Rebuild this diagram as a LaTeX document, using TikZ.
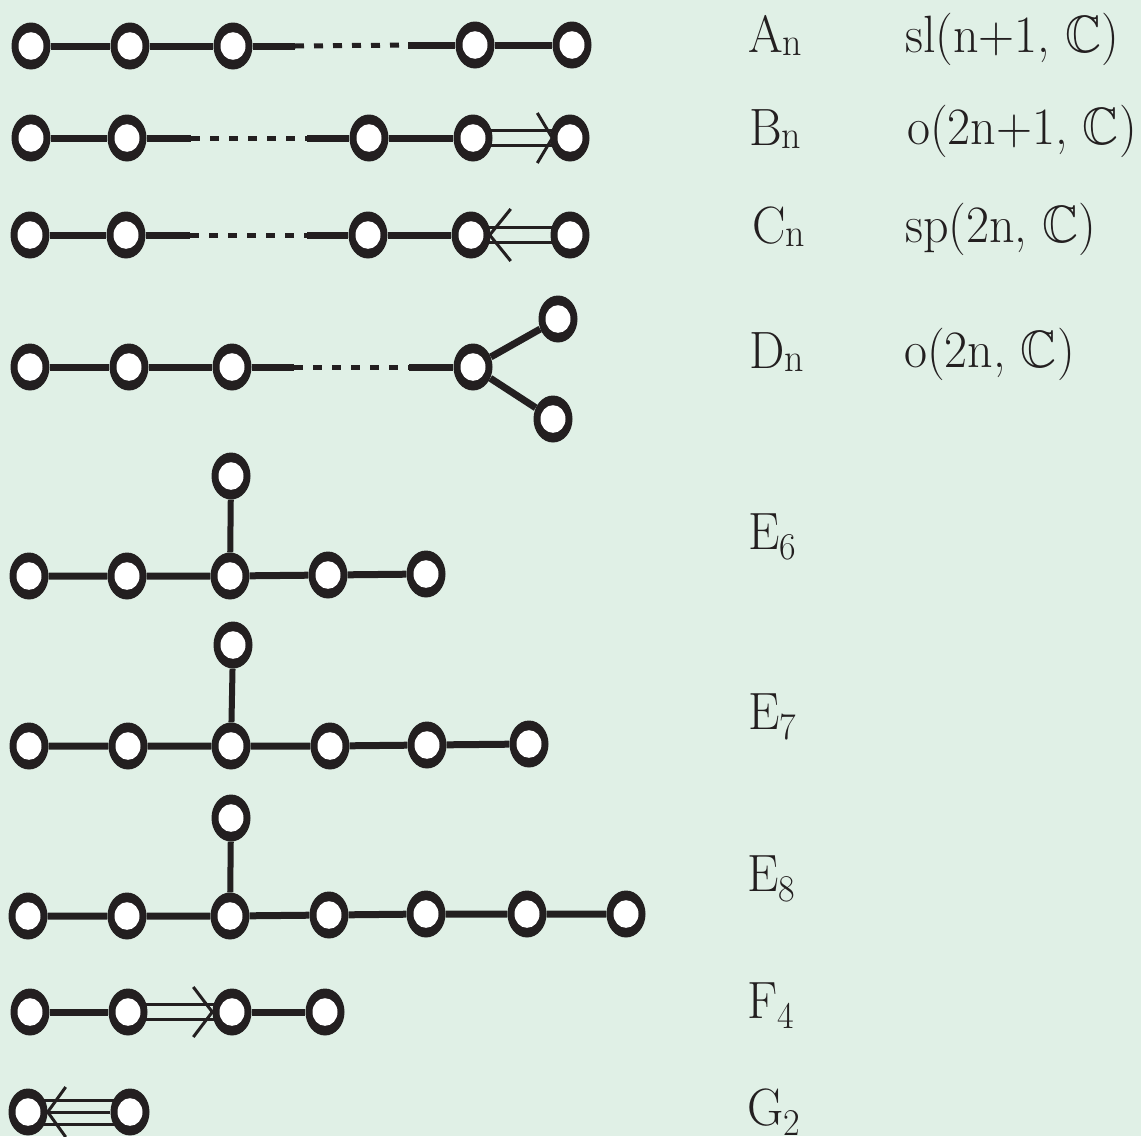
\documentclass[tikz,border=0pt]{standalone}
\usepackage{amssymb}
\usetikzlibrary{calc,shapes.geometric}
\definecolor{bg}{RGB}{224,240,230}
\definecolor{ink}{RGB}{35,31,32}
\pgfdeclarelayer{bottom}
\pgfdeclarelayer{background}
\pgfsetlayers{bottom,background,main}
\newcommand{\lsub}[2]{#1\raisebox{-3pt}{\fontsize{38}{40}\selectfont #2}}
\newcommand{\dsub}[2]{#1\raisebox{-10pt}{\fontsize{36}{40}\selectfont #2}}
\begin{document}
\begin{tikzpicture}[x=1pt,y=-1pt,
  dn/.style={fill=ink, ellipse, minimum width=39pt, minimum height=47pt, inner sep=0pt,
    path picture={\fill[white] (path picture bounding box.center) ellipse (12.5pt and 13.8pt);}},
  bond/.style={draw=ink, line width=7pt},
  dots/.style={draw=ink, line width=5pt, dash pattern=on 9pt off 10pt},
  fine/.style={draw=ink, line width=3pt},
  lab/.style={anchor=base west, inner sep=0pt, text=ink, font=\fontsize{50}{56}\selectfont}]
\begin{pgfonlayer}{bottom}
\fill[bg] (0,0) rectangle (1141,1136);
\end{pgfonlayer}
\useasboundingbox (0,0) rectangle (1141,1136);

% ---- A_n
\node[dn] (a1) at (31,46) {};
\node[dn] (a2) at (130,46) {};
\node[dn] (a3) at (233,46) {};
\node[dn] (a4) at (475,45) {};
\node[dn] (a5) at (572,45) {};
\coordinate (ap1) at (295,46);
\coordinate (ap2) at (408,45);
% ---- B_n
\node[dn] (b1) at (31,138) {};
\node[dn] (b2) at (127,138) {};
\node[dn] (b3) at (369,138) {};
\node[dn] (b4) at (473,138) {};
\node[dn] (b5) at (570,138) {};
\coordinate (bp1) at (191,138);
\coordinate (bp2) at (307,138);
% ---- C_n
\node[dn] (c1) at (30,235) {};
\node[dn] (c2) at (126,235) {};
\node[dn] (c3) at (368,235) {};
\node[dn] (c4) at (471,235) {};
\node[dn] (c5) at (570,235) {};
\coordinate (cp1) at (190,235);
\coordinate (cp2) at (307,235);
% ---- D_n
\node[dn] (d1) at (30,367) {};
\node[dn] (d2) at (129,367) {};
\node[dn] (d3) at (232,367) {};
\node[dn] (d4) at (473,367) {};
\node[dn] (d5) at (558,319) {};
\node[dn] (d6) at (553,419) {};
\coordinate (dp1) at (294,367);
\coordinate (dp2) at (409,367);
% ---- E6
\node[dn] (e61) at (29,576) {};
\node[dn] (e62) at (127,576) {};
\node[dn] (e63) at (230,576) {};
\node[dn] (e64) at (328,575) {};
\node[dn] (e65) at (426,574) {};
\node[dn] (e66) at (231,476) {};
% ---- E7
\node[dn] (e71) at (29,746) {};
\node[dn] (e72) at (128,746) {};
\node[dn] (e73) at (231,746) {};
\node[dn] (e74) at (330,746) {};
\node[dn] (e75) at (427,745) {};
\node[dn] (e76) at (529,744) {};
\node[dn] (e77) at (233,645) {};
% ---- E8
\node[dn] (e81) at (28,916) {};
\node[dn] (e82) at (127,916) {};
\node[dn] (e83) at (230,916) {};
\node[dn] (e84) at (329,915) {};
\node[dn] (e85) at (426,914) {};
\node[dn] (e86) at (527,914) {};
\node[dn] (e87) at (626,914) {};
\node[dn] (e88) at (231,818) {};
% ---- F4
\node[dn] (f1) at (30,1012) {};
\node[dn] (f2) at (128,1012) {};
\node[dn] (f3) at (232,1012) {};
\node[dn] (f4) at (325,1012) {};
% ---- G2
\node[dn] (g1) at (28,1112) {};
\node[dn] (g2) at (130,1112) {};

\begin{pgfonlayer}{background}
  \draw[bond] (a1) -- (a2) -- (a3) -- (ap1);
  \draw[dots] (ap1) -- (ap2);
  \draw[bond] (ap2) -- (a4) -- (a5);

  \draw[bond] (b1) -- (b2) -- (bp1);
  \draw[dots] (bp1) -- (bp2);
  \draw[bond] (bp2) -- (b3) -- (b4);
  \draw[fine] ($(b4)+(0,-7.5)$) -- ($(b5)+(0,-7.5)$);
  \draw[fine] ($(b4)+(0,7.5)$) -- ($(b5)+(0,7.5)$);

  \draw[bond] (c1) -- (c2) -- (cp1);
  \draw[dots] (cp1) -- (cp2);
  \draw[bond] (cp2) -- (c3) -- (c4);
  \draw[fine] ($(c4)+(0,-7.5)$) -- ($(c5)+(0,-7.5)$);
  \draw[fine] ($(c4)+(0,7.5)$) -- ($(c5)+(0,7.5)$);

  \draw[bond] (d1) -- (d2) -- (d3) -- (dp1);
  \draw[dots] (dp1) -- (dp2);
  \draw[bond] (dp2) -- (d4);
  \draw[bond] (d4) -- (d5);
  \draw[bond] (d4) -- (d6);

  \draw[bond] (e61) -- (e62) -- (e63) -- (e64) -- (e65);
  \draw[bond, line width=6pt] (e63) -- (e66);

  \draw[bond] (e71) -- (e72) -- (e73) -- (e74) -- (e75) -- (e76);
  \draw[bond, line width=6pt] (e73) -- (e77);

  \draw[bond] (e81) -- (e82) -- (e83) -- (e84) -- (e85) -- (e86) -- (e87);
  \draw[bond, line width=6pt] (e83) -- (e88);

  \draw[bond] (f1) -- (f2);
  \draw[fine] ($(f2)+(0,-7.5)$) -- ($(f3)+(0,-7.5)$);
  \draw[fine] ($(f2)+(0,7.5)$) -- ($(f3)+(0,7.5)$);
  \draw[bond] (f3) -- (f4);

  \draw[fine] ($(g1)+(0,-12)$) -- ($(g2)+(0,-12)$);
  \draw[fine] (g1) -- (g2);
  \draw[fine] ($(g1)+(0,12)$) -- ($(g2)+(0,12)$);
\end{pgfonlayer}

% arrow heads
\draw[fine] ($(b5.west)+(-13,-25)$) -- ($(b5.west)+(2,0)$) -- ($(b5.west)+(-13,25)$);
\draw[fine] ($(c4.east)+(20,-26)$) -- ($(c4.east)+(-1,0)$) -- ($(c4.east)+(20,26)$);
\draw[fine] ($(f3.west)+(-19,-25)$) -- (f3.west) -- ($(f3.west)+(-19,25)$);
\draw[fine] ($(g1.east)+(18,-25)$) -- (g1.east) -- ($(g1.east)+(18,25)$);

% labels
\node[lab] (lA) at (748,52) {\scalebox{1}[1.05]{\lsub{A}{n}}};
\node[lab] (lB) at (749,145) {\scalebox{1}[1.05]{\lsub{B}{n}}};
\node[lab] (lC) at (752,243) {\scalebox{1}[1.05]{\lsub{C}{n}}};
\node[lab] (lD) at (749,368) {\scalebox{1}[1.05]{\lsub{D}{n}}};
\node[lab] (lE6) at (748,549) {\scalebox{1}[1.05]{\dsub{E}{6}}};
\node[lab] (lE7) at (748,729) {\scalebox{1}[1.05]{\dsub{E}{7}}};
\node[lab] (lE8) at (747,891) {\scalebox{1}[1.05]{\dsub{E}{8}}};
\node[lab] (lF4) at (747,1018) {\scalebox{1}[1.05]{\dsub{F}{4}}};
\node[lab] (lG2) at (747,1125) {\scalebox{1}[1.05]{\dsub{G}{2}}};
\node[lab] (nA) at (905,52) {\scalebox{1}[1.05]{sl(n+1, $\mathbb{C}$)}};
\node[lab] (nB) at (907,144) {\scalebox{1}[1.05]{o(2n+1, $\mathbb{C}$)}};
\node[lab] (nC) at (905,242) {\scalebox{1}[1.05]{sp(2n, $\mathbb{C}$)}};
\node[lab] (nD) at (904,367) {\scalebox{1}[1.05]{o(2n, $\mathbb{C}$)}};
\end{tikzpicture}
\end{document}
